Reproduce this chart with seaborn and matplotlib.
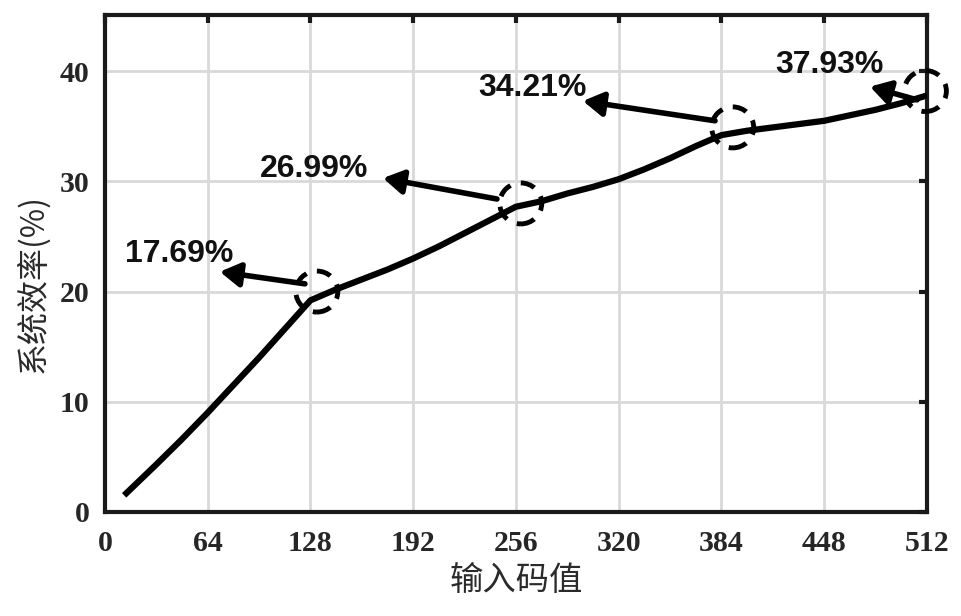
import numpy as np
import pandas as pd
import seaborn as sns
import matplotlib
matplotlib.use("Agg")
import matplotlib.pyplot as plt
from matplotlib.patches import Ellipse

# ---- data ----
code_values = [12, 32, 48, 64, 80, 96, 112, 128, 144, 160, 176, 192, 208, 224, 240, 256,
               272, 288, 304, 320, 336, 352, 368, 384, 400, 416, 432, 448, 464, 480, 496, 512]
efficiency = [1.5, 4.3, 6.6, 9.0, 11.5, 14.0, 16.6, 19.2, 20.2, 21.1, 22.0, 23.0, 24.1, 25.3, 26.5, 27.7,
              28.2, 28.9, 29.5, 30.2, 31.1, 32.1, 33.2, 34.2, 34.6, 34.9, 35.2, 35.5, 36.0, 36.5, 37.1, 37.8]

highlight_x = [128, 256, 384, 512]
highlight_y = [19.2, 27.7, 34.2, 37.8]
highlight_labels = ["17.69%", "26.99%", "34.21%", "37.93%"]

x_ticks = [0, 64, 128, 192, 256, 320, 384, 448, 512]
y_ticks = [0, 10, 20, 30, 40]
x_label = "输入码值"
y_label = "系统效率(%)"

# ---- layout (annotation placement) ----
circle_offset = [(4, 0.8), (3, 0.3), (7, 0.7), (-1, 0.4)]
arrow_tail = [(124.6, 20.7), (244.2, 28.4), (380.0, 35.5), (505.8, 37.4)]
arrow_head = [(71.6, 21.8), (173.2, 30.3), (297.7, 37.3), (476.5, 38.6)]
text_pos = [(12.5, 23.4), (96.5, 31.1), (232.3, 38.5), (417.3, 40.6)]

sns.set_theme(style="white")
plt.rcParams["font.family"] = ["Liberation Serif", "Noto Sans CJK SC", "DejaVu Sans"]

fig = plt.figure(figsize=(9.62, 6.16), dpi=100)
ax = fig.add_axes([0.109, 0.169, 0.8546, 0.8066])

df = pd.DataFrame({"code": code_values, "eff": efficiency})
ax.grid(True, color="#d9d9d9", linewidth=2.0, zorder=0)
ax.set_axisbelow(True)
sns.lineplot(data=df, x="code", y="eff", color="black", linewidth=4.5, ax=ax, zorder=3,
             solid_joinstyle="round", solid_capstyle="butt")

ax.set_xlim(0, 512)
ax.set_ylim(0, 45.1)
ax.set_xticks(x_ticks)
ax.set_yticks(y_ticks)
ax.set_xticklabels([str(v) for v in x_ticks], fontsize=21.5, fontweight="bold",
                   family="Liberation Serif", color="#262626")
ax.set_yticklabels([str(v) for v in y_ticks], fontsize=21.5, fontweight="bold",
                   family="Liberation Serif", color="#262626")
ax.tick_params(axis="both", direction="in", length=6, width=3, color="#1a1a1a",
               top=True, right=True, pad=11)
ax.tick_params(axis="x", pad=13)

for s in ax.spines.values():
    s.set_visible(True)
    s.set_linewidth(3)
    s.set_color("#1a1a1a")

ax.set_xlabel(x_label, fontsize=24, family=["Noto Sans CJK SC", "DejaVu Sans"],
              color="#2a2a2a", labelpad=4)
ax.set_ylabel(y_label, fontsize=23, family=["Noto Sans CJK SC", "DejaVu Sans"],
              color="#2a2a2a")
ax.yaxis.set_label_coords(-0.068, 0.46)

# dashed circles (pixel size ~43 px)
xpx = (ax.get_position().width * fig.get_figwidth() * fig.dpi) / 512
ypx = (ax.get_position().height * fig.get_figheight() * fig.dpi) / 45.1
for (hx, hy), (dx, dy) in zip(zip(highlight_x, highlight_y), circle_offset):
    e = Ellipse((hx + dx, hy + dy), width=42 / xpx, height=41 / ypx, fill=False,
                edgecolor="black", linewidth=3.5, linestyle=(0, (3, 2.2)),
                zorder=5, clip_on=False)
    ax.add_patch(e)

for lab, tail, head, tp in zip(highlight_labels, arrow_tail, arrow_head, text_pos):
    ax.annotate("", xy=head, xytext=tail,
                arrowprops=dict(arrowstyle="-|>,head_length=1.0,head_width=0.6",
                                color="black", linewidth=4, shrinkA=0, shrinkB=0),
                zorder=6, annotation_clip=False)
    ax.text(tp[0], tp[1], lab, fontsize=23, fontweight="bold",
            family="Liberation Sans", color="#111111", ha="left", va="center", zorder=7)

fig.savefig("out.png", dpi=100)
